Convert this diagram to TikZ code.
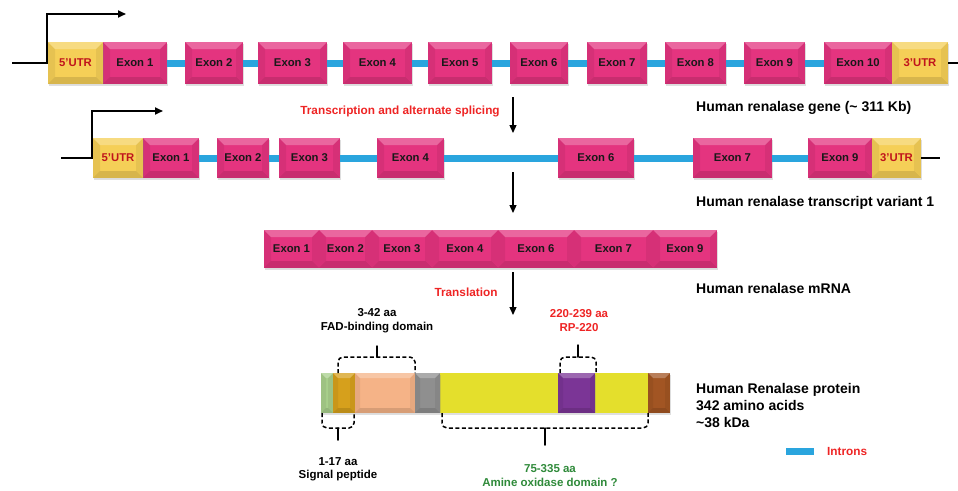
\documentclass[tikz,border=0pt]{standalone}
\usepackage{fontspec}
\setmainfont{Liberation Sans}
\usepackage{xcolor}
\usetikzlibrary{positioning,arrows.meta,calc,shadows}
\definecolor{cExon}  {HTML}{E4347F}
\definecolor{cUtr}   {HTML}{F5CF57}
\definecolor{cUtrTxt}{HTML}{C0141C}
\definecolor{cIntron}{HTML}{2AA5DE}
\definecolor{cRed}   {HTML}{EE2424}
\definecolor{cGreen} {HTML}{2F8A3A}
\definecolor{cSig}   {HTML}{A8CF8B}
\definecolor{cGold}  {HTML}{D6A01C}
\definecolor{cPeach} {HTML}{F5B387}
\definecolor{cGrey}  {HTML}{8F8F8F}
\definecolor{cYel}   {HTML}{E4DF2C}
\definecolor{cPurp}  {HTML}{7B3596}
\definecolor{cBrown} {HTML}{A25523}
\tikzset{
  >={Triangle[length=8pt,width=7pt]},
  bevel/.style={path picture={
      \path (path picture bounding box.north west) coordinate (nw)
            (path picture bounding box.north east) coordinate (ne)
            (path picture bounding box.south west) coordinate (sw)
            (path picture bounding box.south east) coordinate (se);
      \fill[white,opacity=.25] (nw) -- (ne) -- ([shift={(-#1,-#1)}]ne) -- ([shift={(#1,-#1)}]nw) -- cycle;
      \fill[black,opacity=.06] (nw) -- ([shift={(#1,-#1)}]nw) -- ([shift={(#1,#1)}]sw) -- (sw) -- cycle;
      \fill[black,opacity=.06] (ne) -- ([shift={(-#1,-#1)}]ne) -- ([shift={(-#1,#1)}]se) -- (se) -- cycle;
      \fill[black,opacity=.12] (sw) -- (se) -- ([shift={(-#1,#1)}]se) -- ([shift={(#1,#1)}]sw) -- cycle;
    }},
  bevel/.default=7pt,
  shd/.style={drop shadow={opacity=.25,shadow xshift=.8pt,shadow yshift=-1.6pt}},
  exon/.style={fill=cExon,bevel,shd,inner sep=0pt,outer sep=0pt,minimum height=40pt,
               text=black!90,font=\fontsize{11.3}{13}\selectfont\bfseries},
  utr/.style={exon,fill=cUtr,text=cUtrTxt},
  seg/.style={fill=#1,bevel=5pt,shd,inner sep=0pt,outer sep=0pt,minimum height=40pt},
  flat/.style={fill=cYel,shd,inner sep=0pt,outer sep=0pt,minimum height=40pt},
  intr/.style={cIntron,line width=7pt},
  dna/.style={line width=1.8pt},
  dar/.style={->,line width=1.3pt},
  brk/.style={dash pattern=on 4pt off 2.5pt,line width=1.5pt,rounded corners=5pt},
  tick/.style={line width=1.5pt,line cap=round},
  redlab/.style={text=cRed,font=\fontsize{11.8}{13}\selectfont\bfseries},
  biglab/.style={anchor=west,inner sep=0pt,align=left,font=\fontsize{14}{17}\selectfont\bfseries},
  annot/.style={align=center,font=\fontsize{11.5}{13.5}\selectfont\bfseries},
}
\begin{document}
\begin{tikzpicture}[x=1pt,y=-1pt]
  \useasboundingbox (0,0) rectangle (958,490);
  % gene
  \foreach \n/\a/\b/\t in {g1/103/167/Exon 1,g2/185/243/Exon 2,g3/258/327/Exon 3,g4/343/412/Exon 4,
      g5/428/492/Exon 5,g6/510/568/Exon 6,g7/587/647/Exon 7,g8/665/726/Exon 8,g9/744/805/Exon 9,
      g10/824/892/Exon 10}
    \node[exon,minimum width={(\b-\a)*1pt},minimum height=42pt] (\n) at ({(\a+\b)/2},63) {\t};
  \node[utr,minimum width=55pt,minimum height=42pt] (u5) at (75.5,63) {5'UTR};
  \node[utr,minimum width=56pt,minimum height=42pt] (u3) at (920,63) {3'UTR};
  \foreach \i [evaluate=\i as \j using int(\i+1)] in {1,...,9}
    \draw[intr] (g\i) -- (g\j);
  \coordinate (l1) at (12,63); \coordinate (r1) at (958,63); \coordinate (p1) at (126,14);
  \draw[dna,->] (l1) -- ([xshift=-1pt]u5.west) |- (p1);
  \draw[dna] (u3.east) -- (r1);
  % transcript variant 1
  \foreach \n/\a/\b/\t in {t1/143/199/Exon 1,t2/217/269/Exon 2,t3/279/340/Exon 3,t4/377/444/Exon 4,
      t6/558/634/Exon 6,t7/693/772/Exon 7,t9/808/872/Exon 9}
    \node[exon,minimum width={(\b-\a)*1pt}] (\n) at ({(\a+\b)/2},158) {\t};
  \node[utr,minimum width=50pt] (v5) at (118,158) {5'UTR};
  \node[utr,minimum width=49pt] (v3) at (896.5,158) {3'UTR};
  \foreach \i/\j in {t1/t2,t2/t3,t3/t4,t4/t6,t6/t7,t7/t9}
    \draw[intr] (\i) -- (\j);
  \coordinate (l2) at (61,158); \coordinate (r2) at (940,158); \coordinate (p2) at (163,111);
  \draw[dna,->] (l2) -- ([xshift=-1pt]v5.west) |- (p2);
  \draw[dna] (v3.east) -- (r2);
  % mRNA
  \foreach \n/\a/\b/\t in {m1/264/319/Exon 1,m2/319/372/Exon 2,m3/372/432/Exon 3,m4/432/498/Exon 4,
      m6/498/574/Exon 6,m7/574/653/Exon 7,m9/653/717/Exon 9}
    \node[exon,minimum width={(\b-\a)*1pt},minimum height=38pt] (\n) at ({(\a+\b)/2},249) {\t};
  % protein
  \node[flat,minimum width=118pt] (p5) at (499,393) {};
  \node[flat,minimum width=53pt] (p7) at (621.5,393) {};
  \foreach \n/\a/\b/\c in {s1/321/333/cSig,s2/333/355/cGold,s3/355/415/cPeach,s4/415/440/cGrey,
      s6/558/595/cPurp,s8/648/670/cBrown}
    \node[seg=\c,minimum width={(\b-\a)*1pt}] (\n) at ({(\a+\b)/2},393) {};
  % arrows and labels
  \coordinate (a1s) at (513,97);  \coordinate (a1e) at (513,133);
  \coordinate (a2s) at (513,172); \coordinate (a2e) at (513,213);
  \coordinate (a3s) at (513,272); \coordinate (a3e) at (513,315);
  \draw[dar] (a1s) -- (a1e); \draw[dar] (a2s) -- (a2e); \draw[dar] (a3s) -- (a3e);
  \node[redlab] (trs) at (400,111) {Transcription and alternate splicing};
  \node[redlab] (trl) at (466,292) {Translation};
  \node[biglab] (lgene) at (696,108) {Human renalase gene (\textasciitilde{} 311 Kb)};
  \node[biglab] (ltrans) at (696,203) {Human renalase transcript variant 1};
  \node[biglab] (lmrna) at (696,288) {Human renalase mRNA};
  \node[biglab] (lprot) at (696,405) {Human Renalase protein\\342 amino acids\\\textasciitilde38 kDa};
  % domain brackets
  \coordinate (fa) at (338,373); \coordinate (fb) at (415,373);
  \coordinate (fm) at (377,357); \coordinate (ft) at (377,346);
  \draw[brk] (fa) |- (fm) -| (fb); \draw[tick] (fm) -- (ft);
  \coordinate (ra) at (560,373); \coordinate (rb) at (596,373);
  \coordinate (rm) at (578,357); \coordinate (rt) at (578,345);
  \draw[brk] (ra) |- (rm) -| (rb); \draw[tick] (rm) -- (rt);
  \coordinate (sa) at (322,413); \coordinate (sb) at (354,413);
  \coordinate (sm) at (338,428); \coordinate (st) at (338,440);
  \draw[brk] (sa) |- (sm) -| (sb); \draw[tick] (sm) -- (st);
  \coordinate (oa) at (442,413); \coordinate (ob) at (648,413);
  \coordinate (om) at (545,428); \coordinate (ot) at (545,445);
  \draw[brk] (oa) |- (om) -| (ob); \draw[tick] (om) -- (ot);
  \node[annot] (dfad) at (377,320.5) {3-42 aa\\FAD-binding domain};
  \node[annot,text=cRed] (drp) at (579,320.5) {220-239 aa\\RP-220};
  \node[annot] (dsig) at (338,469.5) {1-17 aa\\Signal peptide};
  \node[annot,text=cGreen] (damo) at (550,475.5) {75-335 aa\\Amine oxidase domain ?};
  % legend
  \coordinate (lg1) at (786,451); \coordinate (lg2) at (814,451);
  \draw[intr] (lg1) -- (lg2);
  \node[redlab,anchor=west,inner sep=0pt] (lint) at (827,451) {Introns};
\end{tikzpicture}
\end{document}
